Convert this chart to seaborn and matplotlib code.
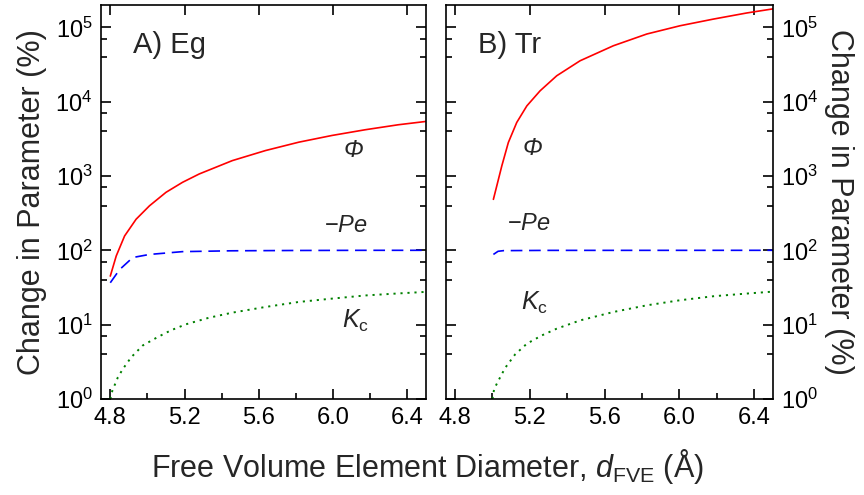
import matplotlib
matplotlib.use("Agg")
import matplotlib.pyplot as plt
import matplotlib.ticker as mticker
import seaborn as sns

# ---- data ----
# panel A (Eg)
a_phi_x = [4.80, 4.832, 4.877, 4.939, 5.011, 5.10, 5.189, 5.279, 5.457, 5.636, 5.815,
           5.994, 6.173, 6.351, 6.5]
a_phi_y = [45, 84, 156, 262, 397, 603, 822, 1065, 1610, 2200, 2850, 3510, 4190, 4890, 5420]
a_pe_x = [4.80, 4.85, 4.921, 5.011, 5.189, 5.45, 5.8, 6.2, 6.5]
a_pe_y = [36.6, 55, 80, 88, 96, 98.5, 99.5, 100, 100]
a_kc_x = [4.80, 4.811, 4.841, 4.868, 4.913, 4.975, 5.055, 5.127, 5.207, 5.332, 5.457,
          5.636, 5.815, 5.994, 6.173, 6.351, 6.5]
a_kc_y = [1.0, 1.29, 1.96, 2.54, 3.65, 5.25, 6.8, 8.4, 10.1, 12.4, 14.5, 17.3, 20.2,
          22.4, 24.7, 26.3, 27.6]

# panel B (Tr)
b_phi_x = [5.005, 5.023, 5.05, 5.085, 5.13, 5.184, 5.255, 5.344, 5.469, 5.647, 5.826,
           6.004, 6.182, 6.361, 6.5]
b_phi_y = [485, 733, 1365, 2820, 5250, 8770, 14000, 22300, 35500, 56500, 81300, 105000,
           129000, 156000, 177000]
b_pe_x = [5.005, 5.03, 5.06, 5.3, 6.5]
b_pe_y = [88, 97, 99, 99.8, 100]
b_kc_x = [5.0, 5.009, 5.032, 5.068, 5.121, 5.184, 5.264, 5.344, 5.469, 5.647, 5.826,
          6.004, 6.182, 6.361, 6.5]
b_kc_y = [1.0, 1.36, 1.77, 2.62, 3.97, 5.54, 7.16, 8.83, 11.4, 14.8, 18.2, 21.3, 24.1,
          26.2, 27.8]

sns.set_theme(style="ticks")
plt.rcParams["font.family"] = ["Liberation Sans", "DejaVu Sans"]
plt.rcParams["mathtext.fontset"] = "custom"
plt.rcParams["mathtext.rm"] = "Liberation Sans"
plt.rcParams["mathtext.it"] = "Liberation Sans:italic"
plt.rcParams["axes.linewidth"] = 1.2

fig = plt.figure(figsize=(8.64, 4.95), dpi=100)
ax1 = fig.add_axes([0.1169, 0.194, 0.3762, 0.796])
ax2 = fig.add_axes([0.5159, 0.194, 0.3785, 0.796])

panels = [
    (ax1, a_phi_x, a_phi_y, a_pe_x, a_pe_y, a_kc_x, a_kc_y),
    (ax2, b_phi_x, b_phi_y, b_pe_x, b_pe_y, b_kc_x, b_kc_y),
]

for ax, px, py, ex, ey, kx, ky in panels:
    sns.lineplot(x=px, y=py, ax=ax, color="#ff0000", lw=1.2, estimator=None)
    sns.lineplot(x=ex, y=ey, ax=ax, color="#0000ff", lw=1.2, estimator=None,
                 linestyle=(0, (7, 4)))
    sns.lineplot(x=kx, y=ky, ax=ax, color="#008000", lw=1.4, estimator=None,
                 linestyle=(0, (1.1, 2.5)))

    ax.set_yscale("log")
    ax.set_xlim(4.75, 6.5)
    ax.set_ylim(1, 2e5)
    ax.xaxis.set_major_locator(mticker.MultipleLocator(0.4))
    ax.xaxis.set_minor_locator(mticker.MultipleLocator(0.2))
    ax.xaxis.set_major_formatter(mticker.FormatStrFormatter("%.1f"))
    ax.yaxis.set_major_locator(mticker.LogLocator(base=10, numticks=10))
    ax.yaxis.set_minor_locator(mticker.LogLocator(base=10, subs=(4, 7), numticks=10))
    ax.yaxis.set_minor_formatter(mticker.NullFormatter())
    ax.tick_params(which="both", direction="in", top=True, bottom=True, left=True, right=True,
                   width=1.2, labelsize=17, colors="black")
    ax.tick_params(which="major", length=7, pad=6)
    ax.tick_params(which="minor", length=4.5)
    ax.tick_params(axis="x", which="minor", top=False)
    for s in ax.spines.values():
        s.set_color("black")

ax1.tick_params(axis="y", labelleft=True, labelright=False)
ax2.tick_params(axis="y", labelleft=False, labelright=True)

ax1.set_ylabel("Change in Parameter (%)", fontsize=22, labelpad=6)
ax2.yaxis.set_label_position("right")
ax2.set_ylabel("Change in Parameter (%)", fontsize=22, rotation=270, labelpad=26)

fig.text(0.495, 0.057, "Free Volume Element Diameter, $d_{\\mathrm{FVE}}$ (Å)",
         fontsize=22, ha="center", va="center")

# panel labels
ax1.text(0.098, 0.898, "A) Eg", transform=ax1.transAxes, fontsize=21, va="center")
ax2.text(0.099, 0.898, "B) Tr", transform=ax2.transAxes, fontsize=21, va="center")

# curve labels
ax1.text(6.11, 2190, "Φ", style="italic", fontsize=17, ha="center", va="center")
ax1.text(6.07, 213, "−$Pe$", fontsize=17, ha="center", va="center")
ax1.text(6.12, 11.1, "$K_\\mathrm{c}$", fontsize=18, ha="center", va="center")
ax2.text(5.215, 2320, "Φ", style="italic", fontsize=17, ha="center", va="center")
ax2.text(5.196, 224, "−$Pe$", fontsize=17, ha="center", va="center")
ax2.text(5.223, 19.5, "$K_\\mathrm{c}$", fontsize=18, ha="center", va="center")

fig.savefig("out.png", dpi=100)
